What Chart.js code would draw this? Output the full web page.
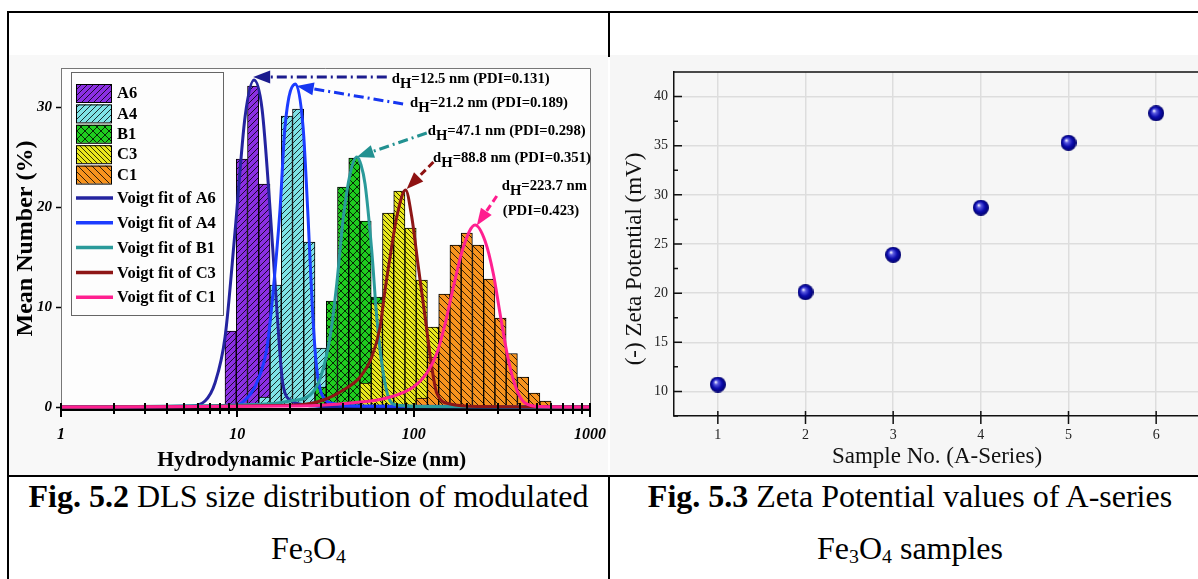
<!DOCTYPE html>
<html>
<head>
<meta charset="utf-8">
<script src="https://cdn.jsdelivr.net/npm/chart.js@4.4.1/dist/chart.umd.min.js"></script>
<style>
  html, body { margin: 0; padding: 0; background: #fff; }
  body { width: 1198px; height: 579px; overflow: hidden; position: relative; font-family: "Liberation Serif", "Times New Roman", serif; }
  .ln { position: absolute; background: #000; }
  .wrap { position: absolute; top: 55px; height: 420px; }
  .cap { position: absolute; text-align: center; font-size: 32px; line-height: 36px; color: #000; white-space: nowrap; }
  .cap sub { font-size: 0.62em; vertical-align: -0.2em; line-height: 0; }
</style>
</head>
<body>
<div class="wrap" style="left:9px;width:599px;"><canvas id="dls" width="599" height="420"></canvas></div>
<div class="wrap" style="left:610px;width:600px;"><canvas id="zeta" width="600" height="420"></canvas></div>

<div class="ln" style="left:7px;top:11px;width:1200px;height:2px;"></div>
<div class="ln" style="left:7px;top:11px;width:2px;height:570px;"></div>
<div class="ln" style="left:608px;top:11px;width:2px;height:46px;"></div>
<div class="ln" style="left:7px;top:475px;width:1200px;height:2px;"></div>
<div class="ln" style="left:608px;top:475px;width:2px;height:110px;"></div>

<div class="cap" style="left:9px;width:599px;top:478px;"><b>Fig. 5.2</b> DLS size distribution of modulated</div>
<div class="cap" style="left:9px;width:599px;top:530px;">Fe<sub>3</sub>O<sub>4</sub></div>
<div class="cap" style="left:610px;width:600px;top:478px;"><b>Fig. 5.3</b> Zeta Potential values of A-series</div>
<div class="cap" style="left:610px;width:600px;top:530px;">Fe<sub>3</sub>O<sub>4</sub> samples</div>

<script>
// DLS histograms: bin centre (nm) and mean number (%)
const xMajor = [1, 10, 100, 1000];
const sizeA6 = [9.16, 10.61, 12.29, 14.24];
const numA6 = [7.6, 24.8, 32.1, 22.3];
const sizeA4 = [14.24, 16.49, 19.10, 22.12, 25.62, 29.67];
const numA4 = [1.0, 12.2, 29.1, 29.8, 16.5, 5.9];
const sizeB1 = [29.67, 34.37, 39.80, 46.10, 53.39, 61.83];
const numB1 = [2.0, 10.6, 22.0, 24.9, 18.6, 11.0];
const sizeC3 = [53.39, 61.83, 71.61, 82.94, 96.05, 111.2, 128.8];
const numC3 = [2.4, 10.4, 19.4, 21.6, 17.9, 12.7, 8.0];
const sizeC1 = [111.2, 128.8, 149.2, 172.8, 200.1, 231.8, 268.5, 310.9, 360.1, 417.1, 483.0, 559.4];
const numC1 = [0.9, 5.0, 11.3, 16.2, 17.4, 16.2, 12.8, 8.9, 5.35, 3.0, 1.4, 0.6];

// Voigt fit curves
const fitA6Size = [1, 5.39, 6.56, 7.47, 8.52, 9.70, 11.06, 12.44, 13.81, 15.33, 16.73, 18.16, 20.43, 24.21, 33.6, 1000];
const fitA6Val  = [0, 0.1, 0.6, 2.4, 7.0, 17.5, 29.0, 32.7, 29.8, 19.8, 9.9, 2.2, 0.6, 0.2, 0.05, 0];
const fitA4Size = [1, 9.09, 10.77, 13.10, 14.74, 15.73, 17.47, 18.65, 21.38, 23.59, 25.18, 26.53, 27.95, 30.23, 35.84, 49.66, 1000];
const fitA4Val  = [0, 0.1, 0.5, 2.7, 6.0, 10.4, 19.8, 28.1, 32.3, 28.0, 19.0, 10.5, 4.5, 1.2, 0.3, 0.1, 0];
const fitB1Size = [1, 14.68, 19.90, 25.85, 29.45, 33.57, 36.63, 39.93, 43.59, 47.56, 50.30, 53.01, 57.85, 61.74, 65.92, 71.87, 80.20, 108.7, 1000];
const fitB1Val  = [0, 0.3, 0.6, 1.2, 2.8, 7.0, 12.3, 19.0, 23.3, 25.0, 24.2, 22.3, 15.6, 9.0, 4.4, 1.0, 0.2, 0.05, 0];
const fitC3Size = [1, 21.73, 30.74, 39.93, 49.66, 57.85, 64.49, 68.83, 73.49, 80.20, 89.97, 97.55, 106.3, 116.1, 126.7, 135.2, 160.9, 238.0, 1000];
const fitC3Val  = [0, 0.2, 0.7, 1.7, 3.0, 5.0, 8.0, 11.7, 15.0, 19.0, 21.7, 19.0, 14.0, 9.0, 4.0, 1.4, 0.3, 0.05, 0];
const fitC1Size = [1, 22.68, 43.59, 70.37, 99.6, 118.7, 135.2, 150.7, 168.0, 191.4, 223.0, 254.1, 283.2, 309.2, 344.5, 384.4, 428.5, 521.2, 1000];
const fitC1Val  = [0, 0.1, 0.4, 0.9, 2.0, 3.4, 5.35, 8.3, 12.0, 16.0, 18.2, 16.6, 13.3, 9.3, 4.7, 1.7, 0.4, 0.05, 0];

// zeta potential of the A-series
const sampleNo = [1, 2, 3, 4, 5, 6];
const zetaMV = [10.7, 20.1, 23.9, 28.7, 35.3, 38.3];
const zetaTicks = [10, 15, 20, 25, 30, 35, 40];

// peak labels with arrows (nm, %)
const notes = [
  { text: 'dH=12.5 nm (PDI=0.131)', at: [75.1, 32.8], tail: [70.4, 33.0], tip: [12.3, 33.0], color: '#1c1c8e', dash: [10, 4, 2, 4] },
  { text: 'dH=21.2 nm (PDI=0.189)', at: [95.4, 30.4], tail: [87.1, 30.3], tip: [21.7, 32.1], color: '#1636f0', dash: [10, 4, 2, 4] },
  { text: 'dH=47.1 nm (PDI=0.298)', at: [120.2, 27.6], tail: [118.6, 27.4], tip: [47.6, 25.0], color: '#229191', dash: [10, 4, 2, 4] },
  { text: 'dH=88.8 nm (PDI=0.351)', at: [128.8, 24.9], tail: [129.4, 24.5], tip: [91.3, 21.8], color: '#8e1212', dash: [7, 4] },
  { text: 'dH=223.7 nm', text2: '(PDI=0.423)', at: [316, 22.1], at2: [320, 19.6], tail: [296, 21.1], tip: [228, 18.15], color: '#ff1c8e', dash: [7, 4] }
];

const serif = '"Liberation Serif", "Times New Roman", serif';

function hatch(color, kind, step) {
  const c = document.createElement('canvas');
  c.width = c.height = step;
  const g = c.getContext('2d');
  g.fillStyle = color;
  g.fillRect(0, 0, step, step);
  g.strokeStyle = 'rgba(0,0,0,0.8)';
  g.lineWidth = 1;
  g.beginPath();
  if (kind === '/' || kind === 'x') {
    g.moveTo(-1, step + 1); g.lineTo(step + 1, -1);
    g.moveTo(-1, 1); g.lineTo(1, -1);
    g.moveTo(step - 1, step + 1); g.lineTo(step + 1, step - 1);
  }
  if (kind === '\\' || kind === 'x') {
    g.moveTo(-1, -1); g.lineTo(step + 1, step + 1);
    g.moveTo(step - 1, -1); g.lineTo(step + 1, 1);
    g.moveTo(-1, step - 1); g.lineTo(1, step + 1);
  }
  g.stroke();
  return g.createPattern(c, 'repeat');
}

function sphere(r) {
  const c = document.createElement('canvas');
  c.width = c.height = 2 * r;
  const g = c.getContext('2d');
  const grd = g.createRadialGradient(r * 0.72, r * 0.68, r * 0.05, r, r, r);
  grd.addColorStop(0, '#f0f0ff');
  grd.addColorStop(0.22, '#5a5ae0');
  grd.addColorStop(0.6, '#0c0cae');
  grd.addColorStop(1, '#00006a');
  g.fillStyle = grd;
  g.beginPath(); g.arc(r, r, r, 0, Math.PI * 2); g.fill();
  return c;
}

const pts = (xs, ys) => xs.map((x, i) => ({ x: x, y: ys[i] }));

function barSet(label, xs, ys, fill, order) {
  return { type: 'bar', label: label, data: pts(xs, ys), backgroundColor: fill, borderColor: '#000', borderWidth: 1,
    borderSkipped: false, grouped: false, barPercentage: 1, categoryPercentage: 1, base: 0, order: order };
}
function fitSet(label, xs, ys, color, order) {
  return { type: 'line', label: label, data: pts(xs, ys), borderColor: color, borderWidth: 3, pointRadius: 0,
    fill: false, cubicInterpolationMode: 'monotone', order: order };
}

const bars = [
  barSet('A6', sizeA6, numA6, hatch('#8b2fe3', '/', 6), 10),
  barSet('A4', sizeA4, numA4, hatch('#7fe3e6', '/', 6), 9),
  barSet('B1', sizeB1, numB1, hatch('#1fcc1f', 'x', 8), 8),
  barSet('C3', sizeC3, numC3, hatch('#e9e81c', '\\', 5), 7),
  barSet('C1', sizeC1, numC1, hatch('#f7931e', '\\', 7), 6)
];
const fits = [
  fitSet('Voigt fit of A6', fitA6Size, fitA6Val, '#2424a0', 5),
  fitSet('Voigt fit of A4', fitA4Size, fitA4Val, '#1c3cff', 4),
  fitSet('Voigt fit of B1', fitB1Size, fitB1Val, '#2a9a9a', 3),
  fitSet('Voigt fit of C3', fitC3Size, fitC3Val, '#8e1616', 2),
  fitSet('Voigt fit of C1', fitC1Size, fitC1Val, '#ff2090', 1)
];

const background = {
  id: 'background',
  beforeDraw(chart, args, opts) {
    const { ctx, chartArea: a } = chart;
    ctx.save();
    ctx.fillStyle = opts.outer;
    ctx.fillRect(0, 0, chart.width, chart.height);
    ctx.fillStyle = opts.inner;
    ctx.fillRect(a.left, a.top, a.right - a.left, a.bottom - a.top);
    ctx.restore();
  }
};

const dlsFrame = {
  id: 'dlsFrame',
  afterDraw(chart, args, o) {
    const { ctx, chartArea: a, scales: { x } } = chart;
    ctx.save();
    ctx.strokeStyle = '#777';
    ctx.lineWidth = 1;
    ctx.beginPath();
    ctx.moveTo(a.left, a.top + 0.5); ctx.lineTo(a.right + 0.5, a.top + 0.5); ctx.lineTo(a.right + 0.5, a.bottom);
    ctx.stroke();
    // log-axis ticks crossing the x axis
    ctx.strokeStyle = '#000';
    ctx.lineWidth = 2;
    ctx.beginPath();
    for (let d = 1; d < 1000; d *= 10) {
      for (let m = 1; m < 10; m++) {
        const px = Math.round(x.getPixelForValue(m * d));
        ctx.moveTo(px, a.bottom - 6);
        ctx.lineTo(px, a.bottom + (m === 1 ? 8 : 5));
      }
    }
    const pe = Math.round(x.getPixelForValue(1000));
    ctx.moveTo(pe, a.bottom - 6); ctx.lineTo(pe, a.bottom + 8);
    ctx.stroke();
    // axis title
    ctx.font = 'bold 21.5px ' + serif;
    ctx.fillStyle = '#000';
    ctx.textAlign = 'center';
    ctx.textBaseline = 'middle';
    ctx.fillText(o.title, a.left + (a.right - a.left) * o.titleAt, a.bottom + o.titleGap);
    ctx.restore();
  }
};

const dlsLegend = {
  id: 'dlsLegend',
  afterDraw(chart, args, o) {
    const { ctx, chartArea: a } = chart;
    const bx = a.left + o.x, by = a.top + o.y;
    ctx.save();
    ctx.strokeStyle = '#666';
    ctx.lineWidth = 1;
    ctx.strokeRect(bx + 0.5, by + 0.5, o.w, o.h);
    ctx.font = 'bold 16.5px ' + serif;
    ctx.textBaseline = 'middle';
    bars.forEach((ds, i) => {
      const cy = by + o.barRow0 + i * o.barStep;
      ctx.fillStyle = ds.backgroundColor;
      ctx.fillRect(bx + o.swX, cy - o.swH / 2, o.swW, o.swH);
      ctx.strokeStyle = '#000';
      ctx.lineWidth = 1;
      ctx.strokeRect(bx + o.swX + 0.5, cy - o.swH / 2 + 0.5, o.swW, o.swH);
      ctx.fillStyle = '#000';
      ctx.fillText(ds.label, bx + o.textX, cy + 1);
    });
    fits.forEach((ds, i) => {
      const cy = by + o.lineRow0 + i * o.lineStep;
      ctx.strokeStyle = ds.borderColor;
      ctx.lineWidth = 3.5;
      ctx.beginPath(); ctx.moveTo(bx + o.swX, cy); ctx.lineTo(bx + o.swX + o.swW + 2, cy); ctx.stroke();
      ctx.fillStyle = '#000';
      ctx.fillText(ds.label, bx + o.textX, cy + 1);
    });
    ctx.restore();
  }
};

function dhText(ctx, text, x, y) {
  let cx = x;
  if (text.startsWith('dH')) {
    ctx.fillText('d', cx, y); cx += ctx.measureText('d').width;
    ctx.fillText('H', cx, y + 5); cx += ctx.measureText('H').width;
    text = text.slice(2);
  }
  ctx.fillText(text, cx, y);
}

const dlsNotes = {
  id: 'dlsNotes',
  afterDraw(chart) {
    const { ctx, scales: { x, y } } = chart;
    const px = p => [x.getPixelForValue(p[0]), y.getPixelForValue(p[1])];
    ctx.save();
    notes.forEach(n => {
      const [x0, y0] = px(n.tail), [x1, y1] = px(n.tip);
      const ang = Math.atan2(y1 - y0, x1 - x0);
      const hl = 17, hw = 6.5;
      const bx = x1 - hl * Math.cos(ang), by = y1 - hl * Math.sin(ang);
      ctx.strokeStyle = n.color; ctx.fillStyle = n.color;
      ctx.lineWidth = 3;
      ctx.setLineDash(n.dash);
      ctx.beginPath(); ctx.moveTo(x0, y0); ctx.lineTo(bx, by); ctx.stroke();
      ctx.setLineDash([]);
      ctx.beginPath();
      ctx.moveTo(x1, y1);
      ctx.lineTo(bx + hw * Math.sin(ang), by - hw * Math.cos(ang));
      ctx.lineTo(bx - hw * Math.sin(ang), by + hw * Math.cos(ang));
      ctx.closePath(); ctx.fill();
      ctx.font = 'bold 14.7px ' + serif;
      ctx.textBaseline = 'middle';
      ctx.textAlign = 'left';
      ctx.fillStyle = '#000';
      const [tx, ty] = px(n.at);
      dhText(ctx, n.text, tx, ty);
      if (n.text2) {
        const [tx2, ty2] = px(n.at2);
        ctx.fillText(n.text2, tx2, ty2);
      }
    });
    ctx.restore();
  }
};

new Chart(document.getElementById('dls'), {
  type: 'bar',
  data: { datasets: [...fits, ...bars] },
  options: {
    responsive: false,
    animation: false,
    events: [],
    layout: { padding: { left: 0, top: 12, right: 18, bottom: 0 } },
    plugins: {
      legend: { display: false },
      tooltip: { enabled: false },
      background: { outer: '#f8f8f8', inner: '#fdfdfd' },
      dlsFrame: { title: 'Hydrodynamic Particle-Size (nm)', titleAt: 0.474, titleGap: 51 },
      dlsLegend: { x: 10, y: 4, w: 152, h: 243, swX: 5, swW: 35, swH: 18, textX: 46,
        barRow0: 21, barStep: 20.4, lineRow0: 126, lineStep: 24.8 }
    },
    scales: {
      x: {
        type: 'logarithmic', min: 1, max: 1000, offset: false,
        afterBuildTicks: s => { s.ticks = xMajor.map(v => ({ value: v })); },
        afterFit: s => { s.height = 66; s.paddingLeft = 0; s.paddingRight = 0; },
        ticks: { callback: v => String(v), autoSkip: false, maxRotation: 0, padding: 16, color: '#000',
          font: { family: serif, size: 16, style: 'italic', weight: 'bold' } },
        grid: { display: false, drawTicks: false },
        border: { display: true, color: '#000', width: 3 }
      },
      y: {
        min: -0.2, max: 33.9,
        afterFit: s => { s.width = 52; },
        ticks: { stepSize: 10, includeBounds: false, padding: 4, color: '#000',
          font: { family: serif, size: 15, style: 'italic', weight: 'bold' } },
        grid: { drawOnChartArea: false, tickLength: 5, tickColor: '#000', tickWidth: 1.5 },
        border: { color: '#777', width: 1 },
        title: { display: true, text: 'Mean Number (%)', color: '#000',
          font: { family: serif, size: 24, weight: 'bold', lineHeight: 1 }, padding: { top: 5, bottom: 0 } }
      }
    }
  },
  plugins: [background, dlsFrame, dlsLegend, dlsNotes]
});

const zetaFrame = {
  id: 'zetaFrame',
  afterDraw(chart, args, o) {
    const { ctx, chartArea: a, scales: { x, y } } = chart;
    ctx.save();
    ctx.strokeStyle = '#111';
    ctx.lineWidth = 1.5;
    ctx.beginPath();
    ctx.moveTo(a.left, a.top); ctx.lineTo(a.right + 2, a.top);
    // inward y ticks, major and half-step minor
    y.ticks.forEach(t => {
      const py = y.getPixelForValue(t.value);
      ctx.moveTo(a.left, py); ctx.lineTo(a.left + 8, py);
      const pm = y.getPixelForValue(t.value - 2.5);
      ctx.moveTo(a.left, pm); ctx.lineTo(a.left + 4, pm);
    });
    const pl = y.getPixelForValue(y.ticks[y.ticks.length - 1].value + 2.5);
    ctx.moveTo(a.left, pl); ctx.lineTo(a.left + 4, pl);
    x.ticks.forEach(t => {
      const px = x.getPixelForValue(t.value);
      ctx.moveTo(px, a.bottom - 5); ctx.lineTo(px, a.bottom + 8);
    });
    ctx.stroke();
    // y axis title, sitting a little below the middle as in the figure
    ctx.translate(o.titleX, (a.top + a.bottom) / 2 + o.titleShift);
    ctx.rotate(-Math.PI / 2);
    ctx.font = '23px ' + serif;
    ctx.fillStyle = '#111';
    ctx.textAlign = 'center';
    ctx.textBaseline = 'middle';
    ctx.fillText(o.title, 0, 0);
    ctx.restore();
  }
};

new Chart(document.getElementById('zeta'), {
  type: 'scatter',
  data: {
    datasets: [{ label: 'Zeta', data: pts(sampleNo, zetaMV), pointStyle: sphere(8), pointRadius: 8 }]
  },
  options: {
    responsive: false,
    animation: false,
    events: [],
    layout: { padding: { left: 0, top: 17, right: 10, bottom: 0 } },
    plugins: {
      legend: { display: false },
      tooltip: { enabled: false },
      background: { outer: '#f6f6f6', inner: '#f6f6f6' },
      zetaFrame: { title: '(-) Zeta Potential (mV)', titleX: 25, titleShift: 15 }
    },
    scales: {
      x: {
        min: 0.5, max: 6.5,
        afterBuildTicks: s => { s.ticks = sampleNo.map(v => ({ value: v })); },
        afterFit: s => { s.height = 59; s.paddingLeft = 0; s.paddingRight = 0; },
        ticks: { autoSkip: false, maxRotation: 0, padding: 11, color: '#222', font: { family: serif, size: 14 } },
        grid: { color: '#dddddd', lineWidth: 1.5, drawTicks: false },
        border: { color: '#111', width: 1.5 },
        title: { display: true, text: 'Sample No. (A-Series)', color: '#111',
          font: { family: serif, size: 23, lineHeight: 1 }, padding: { top: 0, bottom: 6.5 } }
      },
      y: {
        min: 7.5, max: 42.5,
        afterBuildTicks: s => { s.ticks = zetaTicks.map(v => ({ value: v })); },
        afterFit: s => { s.width = 64; },
        ticks: { autoSkip: false, padding: 6, color: '#222', font: { family: serif, size: 14 } },
        grid: { color: '#dddddd', lineWidth: 1.5, drawTicks: false },
        border: { color: '#111', width: 1.5 }
      }
    }
  },
  plugins: [background, zetaFrame]
});
</script>
</body>
</html>
